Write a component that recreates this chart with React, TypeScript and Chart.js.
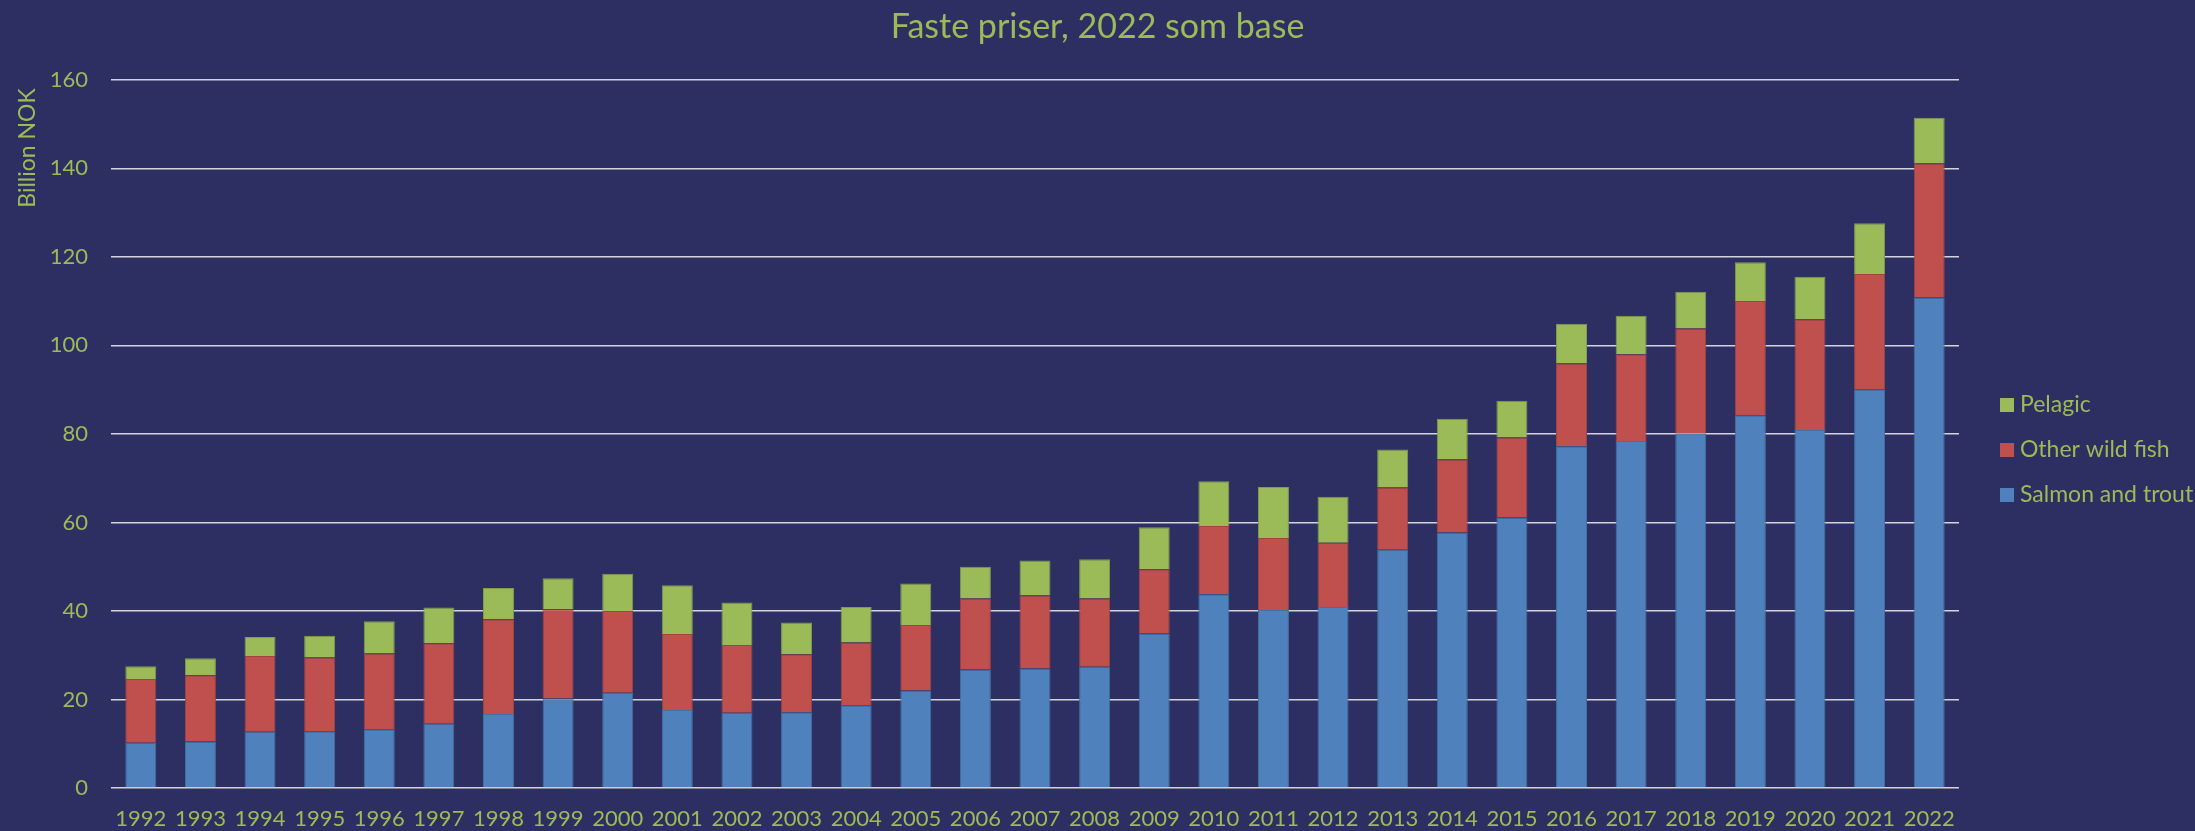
import React, { useEffect, useRef } from "react";
import { Chart, registerables } from "chart.js";

Chart.register(...registerables);

const years = [
  "1992", "1993", "1994", "1995", "1996", "1997", "1998", "1999", "2000", "2001",
  "2002", "2003", "2004", "2005", "2006", "2007", "2008", "2009", "2010", "2011",
  "2012", "2013", "2014", "2015", "2016", "2017", "2018", "2019", "2020", "2021", "2022",
];

const salmonAndTrout = [
  10.2, 10.5, 12.7, 12.8, 13.3, 14.5, 16.7, 20.2, 21.5, 17.6,
  17.0, 17.1, 18.7, 22.0, 26.8, 27.0, 27.4, 34.9, 43.8, 40.2,
  40.9, 53.8, 57.7, 61.1, 77.2, 78.4, 80.1, 84.2, 80.9, 90.1, 110.8,
];

const otherWildFish = [
  14.4, 15.0, 17.1, 16.7, 17.1, 18.2, 21.4, 20.2, 18.5, 17.2,
  15.3, 13.1, 14.2, 14.8, 16.0, 16.5, 15.4, 14.5, 15.4, 16.3,
  14.5, 14.1, 16.5, 18.1, 18.7, 19.6, 23.7, 25.8, 25.0, 26.0, 30.3,
];

const pelagic = [
  2.9, 3.8, 4.3, 4.9, 7.3, 8.1, 7.1, 7.0, 8.4, 11.0,
  9.6, 7.2, 8.0, 9.4, 7.2, 7.9, 8.9, 9.5, 10.1, 11.5,
  10.4, 8.6, 9.2, 8.3, 9.0, 8.7, 8.3, 8.8, 9.6, 11.5, 10.3,
];

const yMin = 0;
const yMax = 160;
const yStep = 20;

const titleText = "Faste priser, 2022 som base";
const yAxisTitle = "Billion NOK";

const BG = "#2D2F62";
const TEXT = "#9BBB59";
const FONT = "Lato, 'Open Sans', sans-serif";

export default function App() {
  const canvasRef = useRef<HTMLCanvasElement | null>(null);

  useEffect(() => {
    document.body.style.margin = "0";
    document.body.style.background = BG;
    const canvas = canvasRef.current;
    if (!canvas) return;

    const bgPlugin = {
      id: "bgFill",
      beforeDraw(chart: any) {
        const { ctx, width, height } = chart;
        ctx.save();
        ctx.fillStyle = BG;
        ctx.fillRect(0, 0, width, height);
        ctx.restore();
      },
    };

    const yTitlePlugin = {
      id: "yTitle",
      afterDraw(chart: any) {
        const { ctx } = chart;
        ctx.save();
        ctx.translate(28, 148);
        ctx.rotate(-Math.PI / 2);
        ctx.textAlign = "center";
        ctx.textBaseline = "middle";
        ctx.fillStyle = TEXT;
        ctx.font = `23px ${FONT}`;
        ctx.fillText(yAxisTitle, 0, 0);
        ctx.restore();
      },
    };

    // Legend drawn to the right of the plot, top item = last dataset
    const legendPlugin = {
      id: "sideLegend",
      afterDraw(chart: any) {
        const { ctx } = chart;
        const ds = chart.data.datasets.slice().reverse();
        const boxX = 2000;
        const textX = 2020;
        const firstY = 405;
        const rowGap = 45;
        const box = 14;
        ctx.save();
        ctx.font = `23px ${FONT}`;
        ctx.textBaseline = "middle";
        ctx.textAlign = "left";
        ds.forEach((d: any, i: number) => {
          const cy = firstY + i * rowGap;
          ctx.fillStyle = d.backgroundColor;
          ctx.fillRect(boxX, cy - box / 2, box, box);
          ctx.fillStyle = TEXT;
          ctx.fillText(d.label, textX, cy);
        });
        ctx.restore();
      },
    };

    const chart = new Chart(canvas, {
      type: "bar",
      data: {
        labels: years,
        datasets: [
          {
            label: "Salmon and trout",
            data: salmonAndTrout,
            backgroundColor: "#4F81BD",
            borderColor: "#43709F",
            borderWidth: 1,
          },
          {
            label: "Other wild fish",
            data: otherWildFish,
            backgroundColor: "#C0504D",
            borderColor: "#A24341",
            borderWidth: 1,
          },
          {
            label: "Pelagic",
            data: pelagic,
            backgroundColor: "#9BBB59",
            borderColor: "#819C4A",
            borderWidth: 1,
          },
        ],
      },
      options: {
        animation: false,
        responsive: true,
        maintainAspectRatio: false,
        devicePixelRatio: 1,
        layout: { padding: { left: 0, right: 0, top: 0, bottom: 0 } },
        datasets: {
          bar: { barPercentage: 0.52, categoryPercentage: 1 },
        },
        scales: {
          x: {
            stacked: true,
            grid: { display: false, drawTicks: false },
            border: { display: false },
            ticks: {
              color: TEXT,
              font: { family: FONT, size: 22 },
              padding: 18,
              maxRotation: 0,
              autoSkip: false,
            },
            afterFit(scale: any) {
              scale.height = 43;
              scale.paddingRight = 236;
            },
          },
          y: {
            stacked: true,
            min: yMin,
            max: yMax,
            grid: { color: "#D3D3DC", lineWidth: 1.5, drawTicks: false },
            border: { display: false },
            ticks: {
              stepSize: yStep,
              color: TEXT,
              font: { family: FONT, size: 22 },
              padding: 23,
            },
            afterFit(scale: any) {
              scale.width = 111;
            },
          },
        },
        plugins: {
          title: {
            display: true,
            text: titleText,
            color: TEXT,
            font: { family: FONT, size: 34, weight: "normal" },
            padding: { top: 7, bottom: 32 },
          },
          legend: { display: false },
          tooltip: { enabled: false },
        },
      },
      plugins: [bgPlugin, yTitlePlugin, legendPlugin],
    });

    return () => {
      chart.destroy();
    };
  }, []);

  return (
    <div
      style={{
        position: "fixed",
        left: 0,
        top: 0,
        width: 2195,
        height: 831,
        background: BG,
      }}
    >
      <canvas ref={canvasRef} />
    </div>
  );
}
